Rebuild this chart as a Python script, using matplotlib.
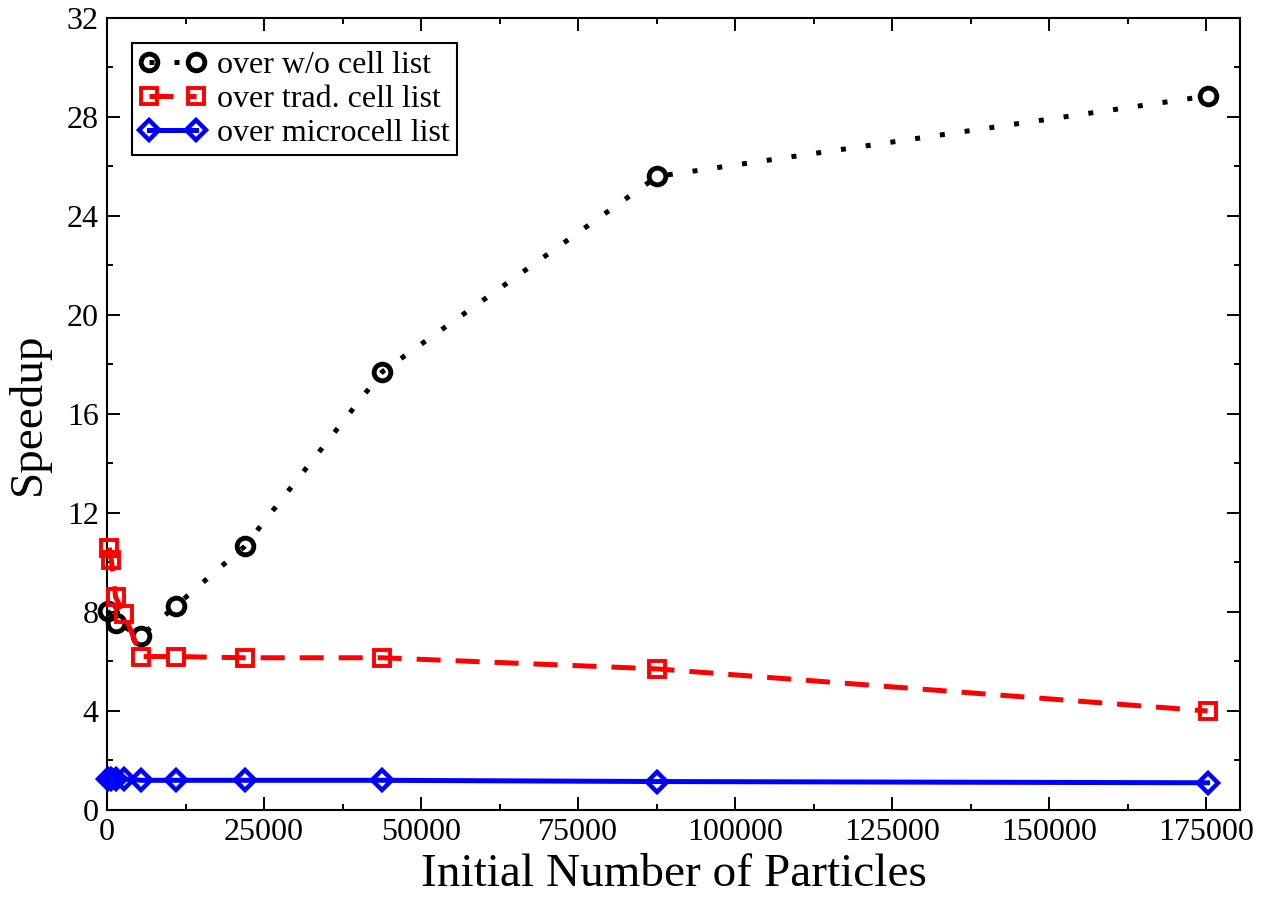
import matplotlib
matplotlib.use("Agg")
import matplotlib.pyplot as plt
from matplotlib.ticker import MultipleLocator

x_black = [100, 1369, 5476, 10952, 21904, 43808, 87616, 175232]
y_black = [8.05, 7.55, 7.05, 8.25, 10.65, 17.7, 25.6, 28.85]

x_red = [342, 684, 1369, 2738, 5476, 10952, 21904, 43808, 87616, 175232]
y_red = [10.6, 10.1, 8.6, 7.9, 6.2, 6.2, 6.15, 6.15, 5.7, 4.0]

x_blue = [100, 684, 1369, 2738, 5476, 10952, 21904, 43808, 87616, 175232]
y_blue = [1.25, 1.25, 1.25, 1.25, 1.2, 1.2, 1.2, 1.2, 1.15, 1.1]

labels = ["over w/o cell list", "over trad. cell list", "over microcell list"]

plt.rcParams['font.family'] = ['Liberation Serif', 'DejaVu Serif']
fig = plt.figure(figsize=(12.71, 8.99), dpi=100)
ax = fig.add_axes([0.0842, 0.099, 0.8914, 0.881])

lw = 3.6
ax.plot(x_black, y_black, color='black', linestyle=(0, (1, 4)), lw=lw,
        marker='o', ms=12, mfc='none', mec='black', mew=3.5, label=labels[0],
        clip_on=False, zorder=3)
ax.plot(x_red, y_red, color='red', linestyle=(0, (4.8, 3)), lw=lw,
        marker='s', ms=11.5, mfc='none', mec='red', mew=2.8, label=labels[1],
        clip_on=False, zorder=4)
ax.plot(x_blue, y_blue, color='blue', linestyle='-', lw=lw,
        marker='D', ms=10, mfc='none', mec='blue', mew=3.2, label=labels[2],
        clip_on=False, zorder=5)

ax.set_xlim(0, 180400)
ax.set_ylim(0, 32)
ax.xaxis.set_major_locator(MultipleLocator(25000))
ax.xaxis.set_minor_locator(MultipleLocator(12500))
ax.yaxis.set_major_locator(MultipleLocator(4))
ax.yaxis.set_minor_locator(MultipleLocator(2))
ax.tick_params(which='both', direction='in', top=True, right=True, labelsize=23, width=1.4)
ax.tick_params(which='major', length=9.5, pad=6)
ax.tick_params(which='minor', length=4.5)
for s in ax.spines.values():
    s.set_linewidth(1.5)

ax.set_xlabel("Initial Number of Particles", fontsize=34)
ax.set_ylabel("Speedup", fontsize=34)
ax.xaxis.set_label_coords(0.5, -0.055)
ax.yaxis.set_label_coords(-0.05, 0.5)

leg = ax.legend(loc='upper left', bbox_to_anchor=(0.022, 0.968), fontsize=23,
                frameon=True, fancybox=False, edgecolor='black', framealpha=1,
                numpoints=2, handlelength=2.1, handletextpad=0.35, borderpad=0.22,
                labelspacing=0.15, borderaxespad=0)
leg.get_frame().set_linewidth(1.5)

fig.savefig("out.png", dpi=100)
